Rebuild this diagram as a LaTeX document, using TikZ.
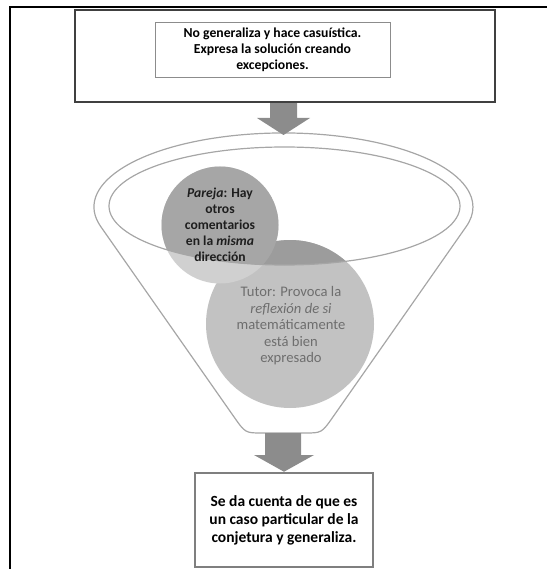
\documentclass[tikz,border=0pt]{standalone}
\usepackage{fontspec}
\setmainfont{Carlito}
\definecolor{framedark}{HTML}{404040}
\definecolor{innerline}{HTML}{8C8C8C}
\definecolor{funnelline}{HTML}{A6A6A6}
\definecolor{arrowfill}{HTML}{8C8C8C}
\definecolor{parejalight}{HTML}{D0D0D0}
\definecolor{parejadark}{HTML}{A6A6A6}
\definecolor{tutorlight}{HTML}{C2C2C2}
\definecolor{tutordark}{HTML}{9C9C9C}
\definecolor{tutortext}{HTML}{6E6E6E}
\definecolor{parejatext}{HTML}{1E1E1E}
\definecolor{bottomline}{HTML}{7F7F7F}
\begin{document}
\begin{tikzpicture}[x=1pt,y=-1pt,
  funnelstyle/.style={draw=funnelline, line width=1.2pt},
  arrowstyle/.style={fill=arrowfill, draw=none},
  bubble/.style={circle, inner sep=0pt, draw=none},
  toptextstyle/.style={align=center, font=\bfseries\fontsize{13.7}{16}\selectfont},
  bottomtextstyle/.style={align=center, font=\bfseries\fontsize{15.5}{18}\selectfont}]
\useasboundingbox (0,0) rectangle (547,569);
% outer page frame
\draw[black, line width=1.6pt] (10,569) -- (10,7) -- (547,7);
% top boxes
\node[draw=framedark, line width=2.2pt, minimum width=420pt, minimum height=92pt, inner sep=0pt] (outerbox) at (285,56) {};
\node[draw=innerline, line width=0.8pt, minimum width=235pt, minimum height=55pt, inner sep=0pt, toptextstyle] (topbox) at (272.5,49.5)
  {No generaliza y hace casuística.\\Expresa la solución creando\\excepciones.};
% circles (light parts)
\node[bubble, fill=tutorlight, minimum size=168pt] (tutor) at (290,324) {};
\node[bubble, fill=parejalight, minimum size=117pt] (pareja) at (220,225) {};
% darker parts inside the inner ellipse
\begin{scope}
  \clip (284.5,206) ellipse [x radius=175.5, y radius=59];
  \fill[tutordark] (tutor.center) circle [radius=84];
  \fill[parejadark] (pareja.center) circle [radius=58.5];
\end{scope}
% funnel outline
\draw[funnelstyle] (100.7,226.5) arc[start angle=164.7, end angle=375.3, x radius=189.5, y radius=74]
  -- (333.2,416.6) .. controls (321.7,433) .. (304.7,433) -- (262,433)
  .. controls (245.3,433) .. (233.8,416.6) -- cycle;
\draw[funnelstyle] (284.5,206) ellipse [x radius=175.5, y radius=59];
% circle texts
\node[align=center, text=parejatext, font=\bfseries\fontsize{13.6}{16}\selectfont] (parejatxt) at (pareja.center)
  {\textit{Pareja}: Hay\\otros\\comentarios\\en la \textit{misma}\\dirección};
\node[align=center, text=tutortext, font=\fontsize{14.6}{16.5}\selectfont] (tutortxt) at (291,326)
  {Tutor: Provoca la\\\textit{reflexión de si}\\matemáticamente\\está bien\\expresado};
% bottom box
\node[draw=bottomline, line width=2.5pt, minimum width=178pt, minimum height=94pt, inner sep=0pt, bottomtextstyle] (bottombox) at (284,520)
  {Se da cuenta de que es\\un caso particular de la\\conjetura y generaliza.};
% arrows
\coordinate (a1tip) at (283.5,135);
\fill[arrowstyle] (outerbox.south -| 270,0) -- (outerbox.south -| 297,0) -- (297,118) -- (310,118) -- (a1tip) -- (257,118) -- (270,118) -- cycle;
\coordinate (a2tip) at (bottombox.north);
\fill[arrowstyle] (265,433) -- (301,433) -- (301,455) -- (314,455) -- (a2tip) -- (254,455) -- (265,455) -- cycle;
\end{tikzpicture}
\end{document}
